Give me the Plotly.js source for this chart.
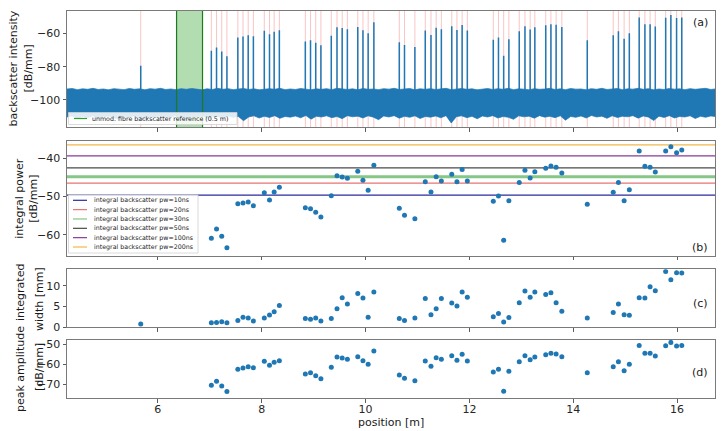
<!DOCTYPE html>
<html><head><meta charset="utf-8">
<script src="https://cdn.plot.ly/plotly-3.0.1.min.js"></script>
<style>html,body{margin:0;padding:0;background:#fff}#chart{width:722px;height:431px}</style>
</head><body><div id="chart"></div>
<script>
// ---------------- data ----------------
const positions = [5.67,
  7.03,7.13,7.23,7.33, 7.54,7.64,7.74,7.84, 8.05,8.15,8.24,8.34,
  8.84,8.94,9.04,9.14, 9.34,9.45,9.55,9.65, 9.85,9.95,10.05,10.16,
  10.65,10.75,10.95,
  11.15,11.26,11.36,11.46, 11.66,11.76,11.86,11.96,
  12.46,12.56,12.66,12.76, 12.96,13.07,13.17,13.26, 13.47,13.57,13.67,13.78,
  14.27,
  14.77,14.87,14.98,15.08, 15.27,15.38,15.48,15.58, 15.78,15.88,15.99,16.09];
const integralPower = [null,
  -60.86,-58.44,-60.34,-63.3, -51.84,-51.66,-51.4,-52.36, -48.97,-50.87,-48.79,-47.56,
  -52.87,-53.13,-54.08,-55.3, -49.75,-44.53,-44.87,-45.2, -43.4,-45.7,-48.35,-41.83,
  -53.04,-54.87,-55.74,
  -46.1,-48.8,-44.8,-45.9, -44.18,-46.1,-42.96,-45.9,
  -51.2,-49.83,-61.4,-51.1, -46.35,-43.14,-45.14,-43.49, -42.6,-42.0,-42.35,-43.83,
  -52.0,
  -48.87,-46.35,-51.1,-48.18, -38.1,-42.1,-42.35,-43.57, -38.1,-36.98,-38.54,-37.84];
const integratedWidth = [0.72,
  1.03,1.1,1.27,1.05, 1.6,2.4,2.2,1.5, 2.2,2.9,3.7,5.2,
  2.07,1.9,2.2,1.5, 2.07,4.4,7.1,5.6, 8.1,7.04,2.4,8.5,
  2.07,1.6,2.2,
  6.9,2.96,4.4,6.9, 5.84,5.1,8.5,7.2,
  2.48,3.27,1.2,2.3, 5.9,8.7,7.2,8.5, 7.85,8.3,5.9,3.84,
  2.2,
  3.5,5.6,2.96,2.88, 7.1,7.04,9.76,8.8, 13.4,11.4,13.1,13.05];
const peakAmplitude = [-79.4,
  -70.5,-68.5,-70.85,-73.7, -62.5,-61.85,-61.2,-61.7, -58.5,-60.5,-59.0,-58.2,
  -64.85,-64.2,-65.7,-67.2, -61.5,-56.35,-56.85,-57.5, -56.2,-58.2,-60.0,-53.35,
  -65.35,-67.0,-68.2,
  -58.35,-61.0,-56.7,-57.5, -55.7,-58.0,-55.0,-58.35,
  -63.85,-62.5,-73.5,-63.5, -58.7,-55.7,-57.7,-56.35, -55.2,-54.5,-54.85,-56.2,
  -64.2,
  -61.2,-58.7,-63.2,-60.0, -50.5,-54.5,-54.5,-55.85, -50.7,-49.0,-50.85,-50.5];

// backscatter noise floor envelope (sampled every 0.1 m from 4.25 m)
const noiseStart = 4.25, noiseStep = 0.1;
const noiseTop = [
  -93.4,-93.1,-93.8,-93.3,-93.6,-93.0,-93.7,-93.4,-93.9,-93.2,
  -93.5,-93.8,-93.1,-93.6,-93.3,-93.9,-93.2,-93.5,-93.0,-93.7,
  -93.4,-93.8,-93.2,-93.6,-93.1,-93.5,-93.9,-93.3,-93.7,-93.0,
  -93.6,-93.2,-93.8,-93.4,-93.1,-93.7,-93.3,-93.9,-93.5,-93.2,
  -93.6,-93.0,-93.8,-93.4,-93.7,-93.1,-93.5,-93.9,-93.3,-93.6,
  -93.2,-93.8,-93.0,-93.5,-93.7,-93.3,-93.9,-93.1,-93.6,-93.4,
  -93.8,-93.2,-93.5,-93.0,-93.7,-93.4,-93.1,-93.9,-93.3,-93.6,
  -93.2,-93.7,-93.4,-93.0,-93.8,-93.5,-93.1,-93.6,-93.3,-93.9,
  -93.4,-93.1,-93.7,-93.2,-93.6,-93.0,-93.8,-93.3,-93.5,-93.9,
  -93.2,-93.6,-93.4,-93.0,-93.7,-93.3,-93.8,-93.1,-93.5,-93.4,
  -93.9,-93.2,-93.6,-93.0,-93.7,-93.4,-93.1,-93.8,-93.3,-93.5,
  -93.0,-93.6,-93.2,-93.9,-93.4,-93.7,-93.1,-93.5,-93.3,-93.8,
  -93.2,-93.6,-93.4,-93.0,-93.7,-93.3];
const noiseBottom = [
  -110.2,-109.6,-111.0,-109.9,-110.7,-109.4,-111.3,-110.1,-109.7,-110.8,
  -111.6,-109.8,-110.4,-109.5,-110.9,-112.2,-109.9,-110.5,-109.6,-111.1,
  -110.0,-109.4,-110.7,-111.4,-109.8,-110.3,-109.5,-110.9,-110.1,-109.7,
  -111.2,-109.6,-110.4,-109.9,-112.4,-110.2,-109.5,-110.8,-109.8,-110.5,
  -109.4,-111.0,-109.9,-110.3,-109.6,-110.7,-109.3,-111.5,-109.8,-110.2,
  -109.5,-110.6,-109.9,-111.2,-109.4,-110.1,-109.7,-110.8,-109.5,-110.3,
  -111.8,-109.6,-110.2,-109.4,-110.9,-109.8,-110.4,-109.5,-111.1,-109.9,
  -110.3,-109.6,-110.7,-109.4,-113.8,-110.0,-109.5,-110.6,-109.8,-111.3,
  -109.6,-110.2,-109.4,-110.8,-109.9,-110.4,-111.6,-109.5,-110.1,-109.7,
  -110.9,-109.4,-110.3,-109.8,-110.6,-109.5,-112.1,-109.9,-110.4,-109.6,
  -110.8,-109.3,-110.2,-109.7,-111.0,-109.5,-110.5,-109.8,-110.1,-109.4,
  -110.9,-109.6,-110.3,-112.3,-109.7,-110.5,-109.4,-110.8,-109.9,-110.2,
  -109.5,-111.1,-109.8,-110.4,-109.6,-110.0];
const noiseLevel = -94;

const refRegion = [6.36, 6.86];
const refRegionLabel = 'unmod. fibre backscatter reference (0.5 m)';

const pwNames = ['integral backscatter pw=10ns','integral backscatter pw=20ns','integral backscatter pw=30ns',
  'integral backscatter pw=50ns','integral backscatter pw=100ns','integral backscatter pw=200ns'];
const pwLevels = [-49.6, -46.5, -44.8, -42.5, -39.4, -36.5];
const pwColors = ['#2a2a9c','#e87272','#86c686','#4a4a4a','#8a3a98','#f2b84a'];
const pwWidths = [1.2, 1.2, 3, 1.2, 1.2, 1.2];

const xRange = [4.25, 16.73];
const xTicks = [6, 8, 10, 12, 14, 16];
const yRanges = {a:[-116.4,-46.6], b:[-65.4,-35.5], c:[-0.05,13.95], d:[-76.9,-47.8]};
const yTicks = {a:[-60,-80,-100], b:[-40,-50,-60], c:[0,5,10], d:[-50,-60,-70]};

// ---------------- layout helpers ----------------
const W=722, H=431, L=67, R=7, T=11, B=33;
const PW=W-L-R, PH=H-T-B;
const px = x => (x-L)/PW;
const py = y => (H-B-y)/PH;
const FONT = 'DejaVu Sans';
const BLUE = '#1f77b4';

const traces = [];
// panel a: noise band
const noiseX = noiseTop.map((_, i) => noiseStart + i*noiseStep);
traces.push({x:noiseX, y:noiseBottom, xaxis:'x', yaxis:'y', mode:'lines', line:{color:BLUE, width:0.7}, hoverinfo:'skip', showlegend:false});
traces.push({x:noiseX, y:noiseTop, xaxis:'x', yaxis:'y', mode:'lines', fill:'tonexty', fillcolor:BLUE, line:{color:BLUE, width:0.7}, hoverinfo:'skip', showlegend:false});
// panel a: peaks
const sx=[], sy=[];
positions.forEach((p,i)=>{ sx.push(p,p,null); sy.push(noiseLevel, peakAmplitude[i], null); });
traces.push({x:sx, y:sy, xaxis:'x', yaxis:'y', mode:'lines', line:{color:BLUE, width:1.5}, hoverinfo:'skip', showlegend:false});

// panel b: reference lines + points
pwLevels.forEach((v,i)=>{
  traces.push({x:xRange, y:[v,v], xaxis:'x2', yaxis:'y2', mode:'lines', line:{color:pwColors[i], width:pwWidths[i]}, name:pwNames[i], showlegend:false});
});
const mk = {color:BLUE, size:5};
traces.push({x:positions, y:integralPower, xaxis:'x2', yaxis:'y2', mode:'markers', marker:mk, showlegend:false});
traces.push({x:positions, y:integratedWidth, xaxis:'x3', yaxis:'y3', mode:'markers', marker:mk, showlegend:false});
traces.push({x:positions, y:peakAmplitude, xaxis:'x4', yaxis:'y4', mode:'markers', marker:mk, showlegend:false});

const axCommon = {showline:true, mirror:true, linecolor:'#7a7a7a', linewidth:1, ticks:'outside', ticklen:3.5,
  tickwidth:0.8, tickcolor:'#333', showgrid:false, zeroline:false,
  tickfont:{family:FONT, size:11, color:'#262626'}};
function xax(anchor, labels){ return Object.assign({}, axCommon, {domain:[0,1], range:xRange, tickvals:xTicks, ticktext:xTicks.map(String), showticklabels:labels, anchor:anchor, ticklabelstandoff:-3}); }
function yax(anchor, dom, rng, tv){ return Object.assign({}, axCommon, {domain:dom, range:rng, tickvals:tv, anchor:anchor}); }

const shapes = [];
// red detection lines
positions.forEach(p=>{
  shapes.push({type:'line', xref:'x', yref:'y domain', x0:p, x1:p, y0:0, y1:1, layer:'below', line:{color:'rgba(240,90,90,0.35)', width:1}});
});
// reference region
shapes.push({type:'rect', xref:'x', yref:'y domain', x0:refRegion[0], x1:refRegion[1], y0:0, y1:1, layer:'below', fillcolor:'rgba(60,170,60,0.4)', line:{width:0}});
refRegion.forEach(p=>{
  shapes.push({type:'line', xref:'x', yref:'y domain', x0:p, x1:p, y0:0, y1:1, layer:'above', line:{color:'#1e7a1e', width:1.2}});
});

const annotations = [];
const LF = 6.3;
// legend a
shapes.push({type:'rect', xref:'paper', yref:'paper', x0:px(68.5), x1:px(237), y0:py(124.5), y1:py(112.5), fillcolor:'rgba(255,255,255,0.85)', line:{color:'#d0d0d0', width:0.8}, layer:'above'});
shapes.push({type:'line', xref:'paper', yref:'paper', x0:px(74), x1:px(87), y0:py(118.5), y1:py(118.5), line:{color:'#2ca02c', width:1.2}, layer:'above'});
annotations.push({xref:'paper', yref:'paper', x:px(90), y:py(118.5), xanchor:'left', yanchor:'middle', text:refRegionLabel, showarrow:false, font:{family:FONT, size:LF, color:'#222'}});
// legend b
shapes.push({type:'rect', xref:'paper', yref:'paper', x0:px(68.5), x1:px(198), y0:py(253), y1:py(195), fillcolor:'rgba(255,255,255,0.85)', line:{color:'#d0d0d0', width:0.8}, layer:'above'});
pwNames.forEach((n,i)=>{
  const yy = 200.3 + i*9.34;
  shapes.push({type:'line', xref:'paper', yref:'paper', x0:px(73), x1:px(87), y0:py(yy), y1:py(yy), line:{color:pwColors[i], width:1.2}, layer:'above'});
  annotations.push({xref:'paper', yref:'paper', x:px(91.5), y:py(yy), xanchor:'left', yanchor:'middle', text:n, showarrow:false, font:{family:FONT, size:LF, color:'#222'}});
});

// axis titles (rotated, line by line)
const TF = {family:FONT, size:11, color:'#1a1a1a'};
const yTitles = [
  ['backscatter intensity', 12.5, 69], ['[dB/mm]', 27.5, 69],
  ['integral power', 19.3, 198.4], ['[dB/mm]', 33.3, 198.4],
  ['integrated', 20, 293], ['width [mm]', 39, 299],
  ['peak amplitude', 20, 369], ['[dB/mm]', 39, 367]
];
yTitles.forEach(t=>{
  annotations.push({xref:'paper', yref:'paper', x:px(t[1]), y:py(t[2]), xanchor:'center', yanchor:'middle', textangle:-90, text:t[0], showarrow:false, font:TF});
});
annotations.push({xref:'paper', yref:'paper', x:0.5, y:py(422), xanchor:'center', yanchor:'middle', text:'position [m]', showarrow:false, font:TF});
// panel labels
[['(a)',22.5],['(b)',247],['(c)',303],['(d)',372]].forEach(l=>{
  annotations.push({xref:'paper', yref:'paper', x:px(700), y:py(l[1]), xanchor:'center', yanchor:'middle', text:l[0], showarrow:false, font:TF});
});

const layout = {
  width:W, height:H, margin:{l:L, r:R, t:T, b:B, autoexpand:false},
  paper_bgcolor:'#fff', plot_bgcolor:'#fff', showlegend:false,
  font:{family:FONT},
  xaxis: xax('y', false), xaxis2: xax('y2', false), xaxis3: xax('y3', false), xaxis4: xax('y4', true),
  yaxis: yax('x', [py(127.3), py(11)], yRanges.a, yTicks.a),
  yaxis2: yax('x2', [py(255.7), py(141)], yRanges.b, yTicks.b),
  yaxis3: yax('x3', [py(327.3), py(269.3)], yRanges.c, yTicks.c),
  yaxis4: yax('x4', [0, py(340)], yRanges.d, yTicks.d),
  shapes: shapes, annotations: annotations
};
Plotly.newPlot('chart', traces, layout, {displayModeBar:false, staticPlot:true});
</script></body></html>
